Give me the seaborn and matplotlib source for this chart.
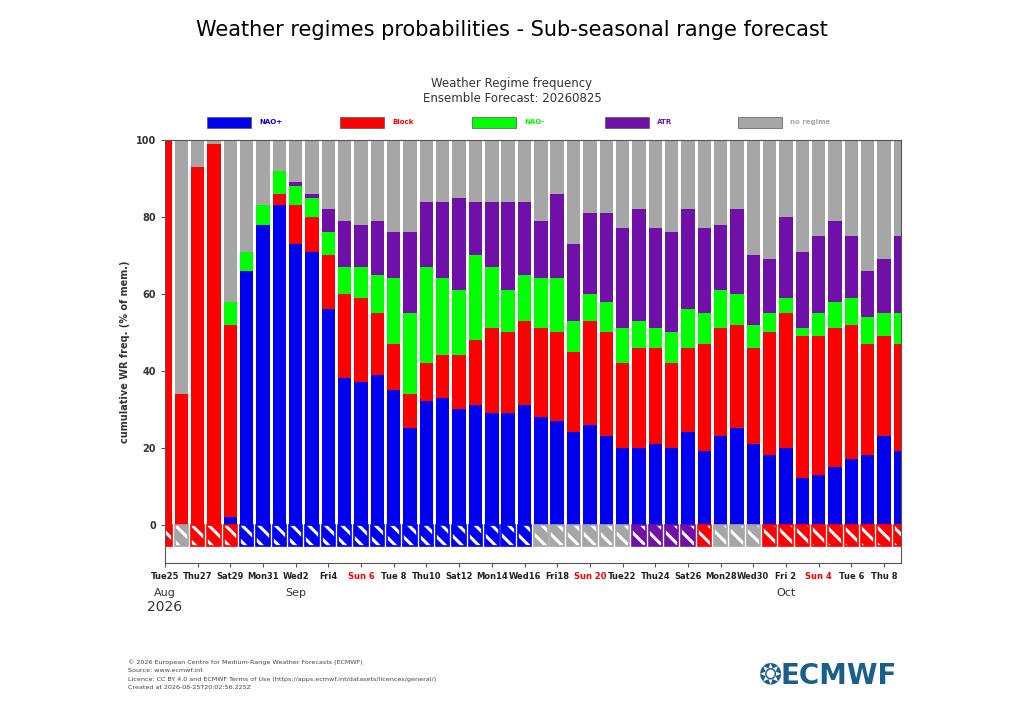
import matplotlib
matplotlib.use("Agg")
import matplotlib.pyplot as plt
import seaborn as sns
import pandas as pd
import numpy as np
from matplotlib.patches import Rectangle

# cumulative tops per day (Aug 25 .. Oct 9)
nao_plus = [0,0,0,0,2,66,78,83,73,71,56,38,37,39,35,25,32,33,30,31,29,29,31,
            28,27,24,26,23,20,20,21,20,24,19,23,25,21,18,20,12,13,15,17,18,23,19]
block_cum = [100,34,93,99,52,66,78,86,83,80,70,60,59,55,47,34,42,44,44,48,51,50,53,
             51,50,45,53,50,42,46,46,42,46,47,51,52,46,50,55,49,49,51,52,47,49,47]
nao_minus_cum = [100,34,93,99,58,71,83,92,88,85,76,67,67,65,64,55,67,64,61,70,67,61,65,
                 64,64,53,60,58,51,53,51,50,56,55,61,60,52,55,59,51,55,58,59,54,55,55]
atr_cum = [100,34,93,99,58,71,83,92,89,86,82,79,78,79,76,76,84,84,85,84,84,84,84,
           79,86,73,81,81,77,82,77,76,82,77,78,82,70,69,80,71,75,79,75,66,69,75]
dominant = ["B","N","B","B","B"] + ["P"]*18 + ["N"]*6 + ["A"]*4 + ["B"] + ["N"]*3 + ["B"]*9

tick_labels = ["Tue25","Thu27","Sat29","Mon31","Wed2","Fri4","Sun 6","Tue 8","Thu10","Sat12",
               "Mon14","Wed16","Fri18","Sun 20","Tue22","Thu24","Sat26","Mon28","Wed30",
               "Fri 2","Sun 4","Tue 6","Thu 8"]
months = [("Aug", 0), ("Sep", 8), ("Oct", 38)]

colors = {"P": "#0000ee", "B": "#ff0000", "M": "#00ff00", "A": "#7010a8", "N": "#a6a6a6"}

n = len(nao_plus)
df = pd.DataFrame({"day": [str(i) for i in range(n)], "blue": nao_plus, "red": block_cum,
                   "green": nao_minus_cum, "purple": atr_cum, "gray": [100]*n})

plt.rcParams["hatch.linewidth"] = 2.2
fig = plt.figure(figsize=(10.24, 7.2), dpi=100)
ax = fig.add_axes([165/1024, 1-563/720, 736/1024, 423/720])
order = df["day"].tolist()
for col, c in [("gray", colors["N"]), ("purple", colors["A"]), ("green", colors["M"]),
               ("red", colors["B"]), ("blue", colors["P"])]:
    sns.barplot(data=df, x="day", y=col, order=order, color=c, width=0.82,
                saturation=1, ax=ax, linewidth=0)

x = np.arange(n)
dcols = [colors[d] for d in dominant]
ax.bar(x, -5.5, width=0.82, color=dcols, edgecolor="white", hatch="\\\\", linewidth=0)
ax.bar(x, -5.5, width=0.82, fill=False, edgecolor=dcols, linewidth=1.2)

ax.set_xlim(0, 45.04)
ax.set_ylim(-10, 100)
ax.set_yticks([0, 20, 40, 60, 80, 100])
ax.set_yticklabels(["0", "20", "40", "60", "80", "100"], fontsize=7, fontweight="bold", color="#333333")
ax.set_xticks(np.arange(0, 45, 2))
ax.set_xticklabels(tick_labels, fontsize=6, fontweight="bold")
for t in ax.get_xticklabels():
    t.set_color("red" if t.get_text().startswith("Sun") else "#222222")
ax.set_xlabel("")
ax.set_ylabel("cumulative WR freq. (% of mem.)", fontsize=7, fontweight="bold", color="#333333")
for s in ax.spines.values():
    s.set_color("#555555")
ax.tick_params(length=3, color="#555555")
for name, i in months:
    ax.text(i, -16.5, name, ha="center", va="top", fontsize=8, color="#333333")
ax.text(0, -19.5, "2026", ha="center", va="top", fontsize=10, color="#333333")

fig.text(0.5, 1-30/720, "Weather regimes probabilities - Sub-seasonal range forecast",
         ha="center", va="center", fontsize=15)
fig.text(0.5, 1-84/720, "Weather Regime frequency", ha="center", va="center", fontsize=8.5, color="#333333")
fig.text(0.5, 1-98/720, "Ensemble Forecast: 20260825", ha="center", va="center", fontsize=8.5, color="#333333")

leg = [(207, "NAO+", colors["P"]), (340, "Block", colors["B"]), (472, "NAO-", colors["M"]),
       (605, "ATR", colors["A"]), (738, "no regime", colors["N"])]
for px, lab, c in leg:
    fig.patches.append(Rectangle((px/1024, 1-128/720), 44/1024, 11/720, transform=fig.transFigure,
                                 facecolor=c, edgecolor="#555555", linewidth=0.5))
    fig.text((px+52)/1024, 1-122/720, lab, fontsize=5, fontweight="bold", color=c, va="center")

foot = ["\u00a9 2026 European Centre for Medium-Range Weather Forecasts (ECMWF)",
        "Source: www.ecmwf.int",
        "Licence: CC BY 4.0 and ECMWF Terms of Use (https://apps.ecmwf.int/datasets/licences/general/)",
        "Created at 2026-08-25T20:02:56.225Z"]
for k, line in enumerate(foot):
    fig.text(128/1024, 1-(662+8.5*k)/720, line, fontsize=4.6, color="#444444", va="center")
fig.text(897/1024, 1-676/720, "ECMWF", ha="right", va="center", fontsize=20,
         fontweight="bold", color="#1a5f8c")
fig.text(770/1024, 1-676/720, "\u2742", ha="center", va="center", fontsize=20, color="#1a5f8c")

fig.savefig("out.png", dpi=100)
